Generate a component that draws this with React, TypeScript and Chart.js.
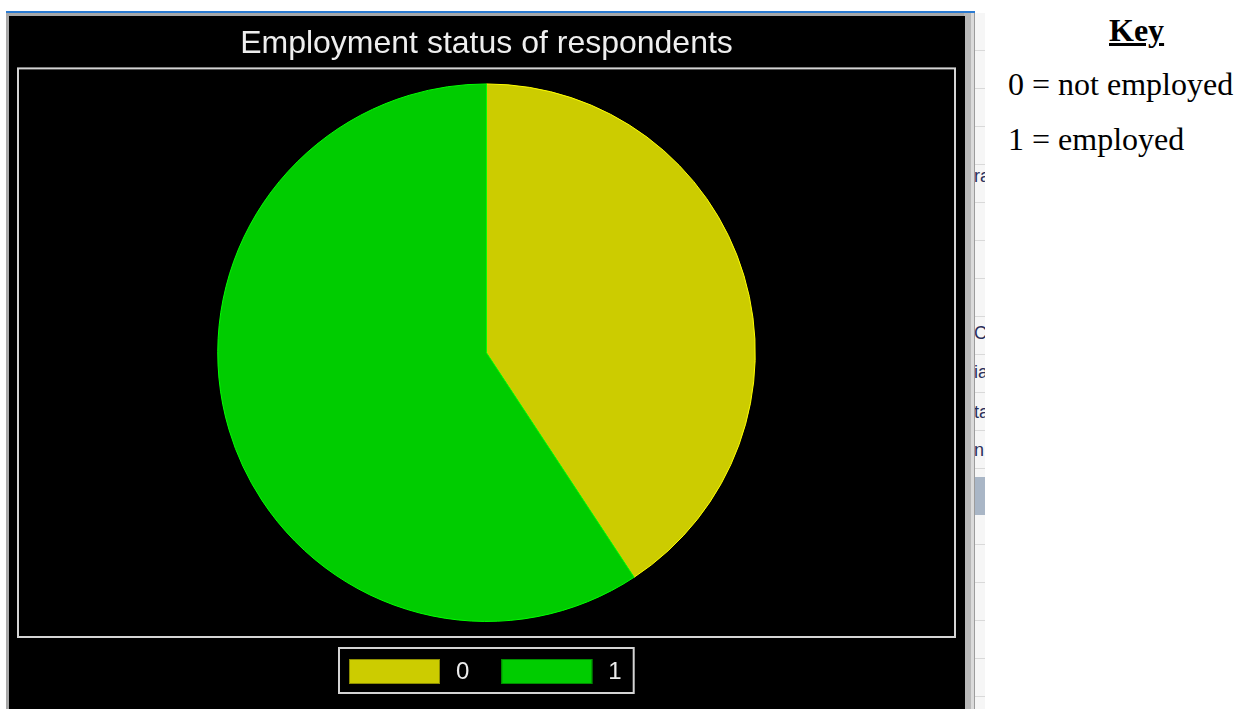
import React, { useEffect, useRef } from 'react';
import { Chart, registerables } from 'chart.js';

Chart.register(...registerables);

// ---- data ----
const TITLE = 'Employment status of respondents';
const categories = ['0', '1'];
const counts = [33, 48];
const fillColors = ['#cccc00', '#00cc00'];
const edgeColors = ['#ffff00', '#00ff00'];
const swatchEdges = ['#8c8c00', '#008c00'];
const keyTitle = 'Key';
const keyLines = ['0 = not employed', '1 = employed'];
const stripWords = [
  { text: 'rat', top: 166 },
  { text: 'Cu', top: 323 },
  { text: 'ial', top: 362 },
  { text: 'ta', top: 402 },
  { text: 'n', top: 440 },
];

const SANS = '"Liberation Sans", Arial, sans-serif';
const SERIF = '"Liberation Serif", "Times New Roman", serif';

const frameLegendPlugin = {
  id: 'frameLegend',
  afterDraw(chart: any) {
    const ctx = chart.ctx as CanvasRenderingContext2D;
    const a = chart.chartArea;
    ctx.save();
    // plot frame
    ctx.strokeStyle = '#d4d4d4';
    ctx.lineWidth = 2;
    ctx.strokeRect(a.left, a.top, a.right - a.left, a.bottom - a.top);

    // boxed legend
    const swW = 91;
    const swH = 25;
    const textGap = 16;
    const itemGap = 32;
    const padL = 10;
    const padR = 12;
    ctx.font = '24px ' + SANS;
    const widths = categories.map((c) => ctx.measureText(c).width);
    const total =
      widths.reduce((s, w) => s + swW + textGap + w, 0) + itemGap * (categories.length - 1);
    const boxW = total + padL + padR;
    const cx = (a.left + a.right) / 2;
    const boxLeft = Math.round(cx - boxW / 2);
    const boxTop = a.bottom + 11;
    const boxH = 45;
    ctx.strokeStyle = '#d4d4d4';
    ctx.lineWidth = 2;
    ctx.strokeRect(boxLeft, boxTop, boxW, boxH);

    let x = boxLeft + padL;
    const swTop = boxTop + 11;
    categories.forEach((c, i) => {
      ctx.fillStyle = fillColors[i];
      ctx.fillRect(x, swTop, swW, swH);
      ctx.strokeStyle = swatchEdges[i];
      ctx.lineWidth = 1;
      ctx.strokeRect(x + 0.5, swTop + 0.5, swW - 1, swH - 1);
      ctx.fillStyle = '#ececec';
      ctx.textAlign = 'left';
      ctx.textBaseline = 'middle';
      ctx.fillText(c, x + swW + textGap, swTop + swH / 2 + 1);
      x += swW + textGap + widths[i] + itemGap;
    });
    ctx.restore();
  },
};

function PieChart() {
  const ref = useRef<HTMLCanvasElement | null>(null);
  useEffect(() => {
    if (!ref.current) return;
    const chart = new Chart(ref.current, {
      type: 'pie',
      data: {
        labels: categories,
        datasets: [
          {
            data: counts,
            backgroundColor: fillColors,
            borderColor: edgeColors,
            borderWidth: 1,
          },
        ],
      },
      options: {
        animation: false,
        responsive: false,
        devicePixelRatio: 1,
        radius: '94.7%',
        layout: { padding: { left: 9, right: 10, bottom: 72, top: 0 } },
        plugins: {
          legend: { display: false },
          tooltip: { enabled: false },
          title: {
            display: true,
            text: TITLE,
            color: '#eeeeee',
            font: { family: SANS, size: 32, weight: 'normal' },
            padding: { top: 9, bottom: 5 },
          },
        },
      } as any,
      plugins: [frameLegendPlugin],
    });
    return () => chart.destroy();
  }, []);
  return <canvas ref={ref} width={956} height={693} style={{ display: 'block' }} />;
}

export default function App() {
  return (
    <div
      style={{
        position: 'fixed',
        left: 0,
        top: 0,
        width: 1238,
        height: 709,
        background: '#ffffff',
        overflow: 'hidden',
      }}
    >
      {/* window frame */}
      <div style={{ position: 'absolute', left: 6, top: 11, width: 969, height: 2, background: '#2b7bd2' }} />
      <div style={{ position: 'absolute', left: 6, top: 13, width: 969, height: 696, background: '#a8a8a8' }} />
      <div style={{ position: 'absolute', left: 964, top: 13, width: 7, height: 696, background: '#b8b8b8' }} />
      <div style={{ position: 'absolute', left: 971, top: 13, width: 3, height: 696, background: '#dadada' }} />
      <div style={{ position: 'absolute', left: 974, top: 13, width: 1, height: 696, background: '#9c9c9c' }} />
      {/* partial document strip */}
      <div
        style={{
          position: 'absolute',
          left: 975,
          top: 13,
          width: 10,
          height: 696,
          overflow: 'hidden',
          background:
            'repeating-linear-gradient(to bottom, #f6f6f6 0px, #f6f6f6 37px, #d9d9d9 37px, #d9d9d9 38px)',
        }}
      >
        <div style={{ position: 'absolute', left: 0, top: 464, width: 10, height: 38, background: '#a9b6c6' }} />
        {stripWords.map((w) => (
          <div
            key={w.top}
            style={{
              position: 'absolute',
              left: -1,
              top: w.top - 13,
              font: '18px ' + SANS,
              color: '#2a2f5a',
              whiteSpace: 'nowrap',
            }}
          >
            {w.text}
          </div>
        ))}
      </div>
      {/* black chart panel */}
      <div style={{ position: 'absolute', left: 9, top: 16, width: 956, height: 693, background: '#000000' }}>
        <PieChart />
      </div>
      {/* key */}
      <div
        style={{
          position: 'absolute',
          left: 1109,
          top: 14,
          font: 'bold 32px ' + SERIF,
          lineHeight: '32px',
          textDecoration: 'underline',
          color: '#000',
          whiteSpace: 'nowrap',
        }}
      >
        {keyTitle}
      </div>
      {keyLines.map((t, i) => (
        <div
          key={t}
          style={{
            position: 'absolute',
            left: 1008,
            top: 68 + i * 55,
            font: '32px ' + SERIF,
            lineHeight: '32px',
            color: '#000',
            whiteSpace: 'nowrap',
          }}
        >
          {t}
        </div>
      ))}
    </div>
  );
}
